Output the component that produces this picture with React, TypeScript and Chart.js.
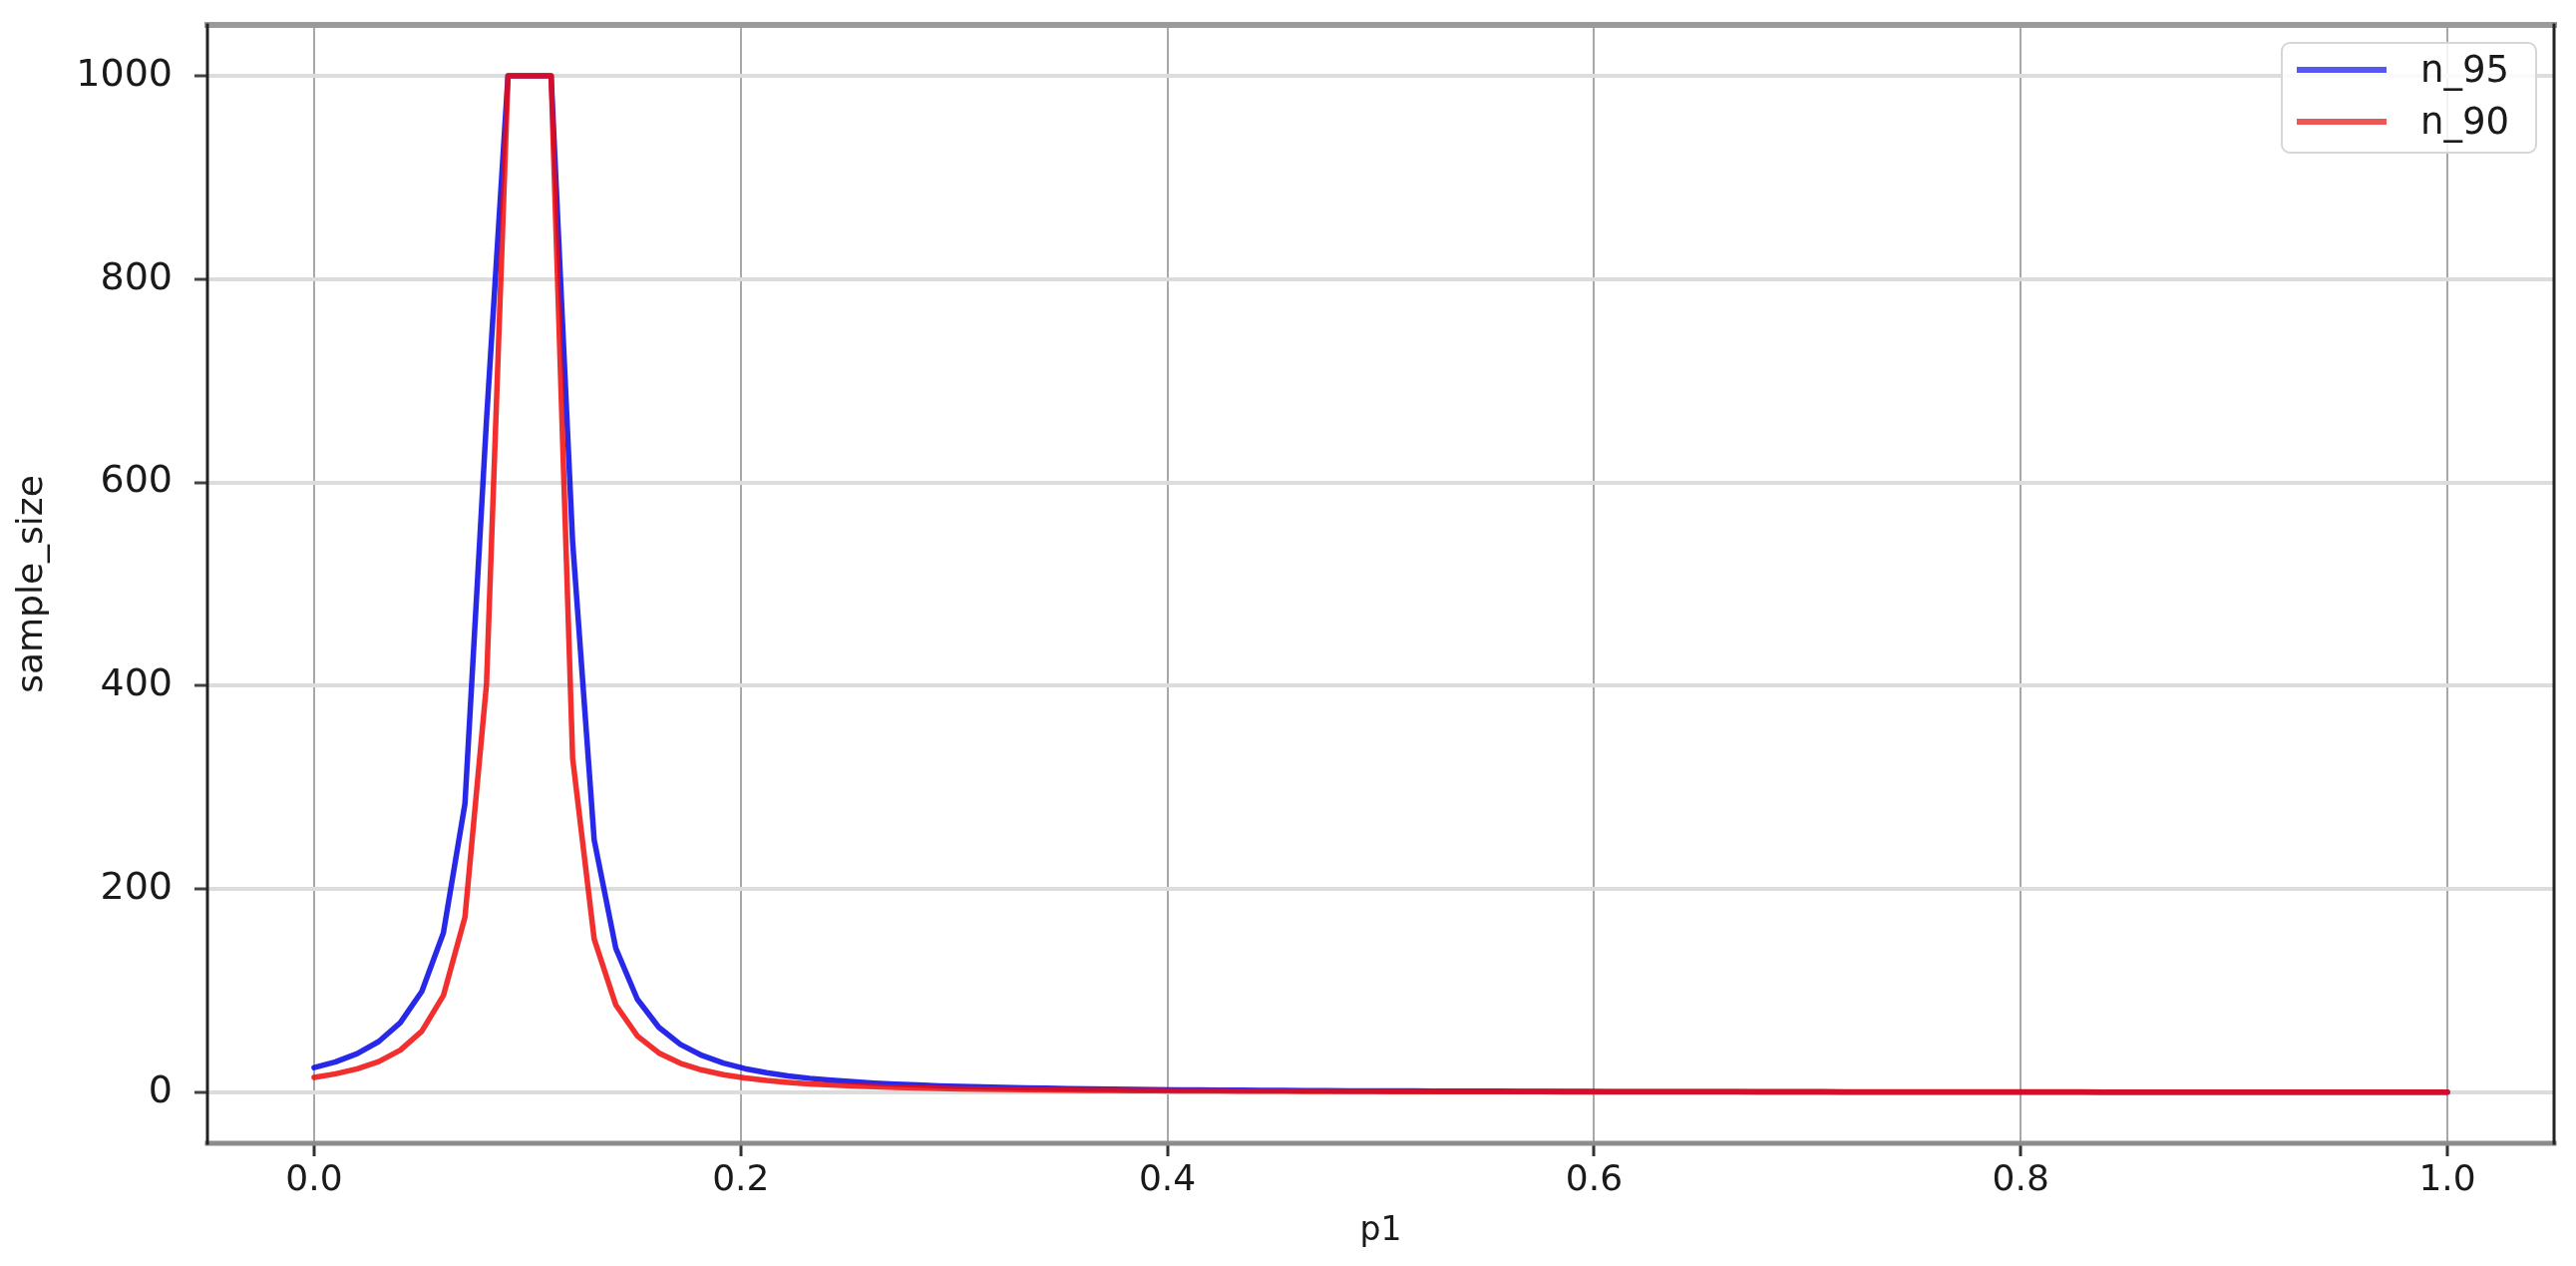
import React, { useEffect, useRef } from 'react';
import { Chart, registerables } from 'chart.js';

Chart.register(...registerables);

// p1 grid (x values)
const P1 = [
  0, 0.0101, 0.0202, 0.0303, 0.0404, 0.0505, 0.0606, 0.0707, 0.0808, 0.0909,
  0.101, 0.1111, 0.1212, 0.1313, 0.1414, 0.1515, 0.1616, 0.1717, 0.1818, 0.1919,
  0.202, 0.2121, 0.2222, 0.2323, 0.2424, 0.2525, 0.2626, 0.2727, 0.2828, 0.2929,
  0.303, 0.3131, 0.3232, 0.3333, 0.3434, 0.3535, 0.3636, 0.3737, 0.3838, 0.3939,
  0.404, 0.4141, 0.4242, 0.4343, 0.4444, 0.4545, 0.4646, 0.4747, 0.4848, 0.4949,
  0.5051, 0.5152, 0.5253, 0.5354, 0.5455, 0.5556, 0.5657, 0.5758, 0.5859, 0.596,
  0.6061, 0.6162, 0.6263, 0.6364, 0.6465, 0.6566, 0.6667, 0.6768, 0.6869, 0.697,
  0.7071, 0.7172, 0.7273, 0.7374, 0.7475, 0.7576, 0.7677, 0.7778, 0.7879, 0.798,
  0.8081, 0.8182, 0.8283, 0.8384, 0.8485, 0.8586, 0.8687, 0.8788, 0.8889, 0.899,
  0.9091, 0.9192, 0.9293, 0.9394, 0.9495, 0.9596, 0.9697, 0.9798, 0.9899, 1.0,
];

const N95 = [
  24.4, 30.1, 38.2, 50.1, 68.6, 99.4, 156.9, 283.8, 661.1, 1000,
  1000, 1000, 541.2, 248.3, 142.0, 91.8, 64.1, 47.3, 36.4, 28.8,
  23.4, 19.4, 16.3, 13.9, 12.0, 10.5, 9.2, 8.2, 7.3, 6.5,
  5.9, 5.4, 4.9, 4.5, 4.1, 3.8, 3.5, 3.3, 3.0, 2.8,
  2.6, 2.5, 2.3, 2.2, 2.1, 1.9, 1.8, 1.7, 1.6, 1.6,
  1.5, 1.4, 1.3, 1.3, 1.2, 1.2, 1.1, 1.1, 1.0, 1.0,
  0.9, 0.9, 0.9, 0.8, 0.8, 0.8, 0.8, 0.7, 0.7, 0.7,
  0.7, 0.6, 0.6, 0.6, 0.6, 0.6, 0.5, 0.5, 0.5, 0.5,
  0.5, 0.5, 0.5, 0.4, 0.4, 0.4, 0.4, 0.4, 0.4, 0.4,
  0.4, 0.4, 0.4, 0.3, 0.3, 0.3, 0.3, 0.3, 0.3, 0.3,
];

const N90 = [
  14.8, 18.3, 23.2, 30.4, 41.6, 60.3, 95.3, 172.3, 401.3, 1000,
  1000, 1000, 328.5, 150.8, 86.2, 55.7, 38.9, 28.7, 22.1, 17.5,
  14.2, 11.8, 9.9, 8.4, 7.3, 6.4, 5.6, 5.0, 4.4, 4.0,
  3.6, 3.3, 3.0, 2.7, 2.5, 2.3, 2.1, 2.0, 1.8, 1.7,
  1.6, 1.5, 1.4, 1.3, 1.3, 1.2, 1.1, 1.1, 1.0, 1.0,
  0.9, 0.9, 0.8, 0.8, 0.7, 0.7, 0.7, 0.7, 0.6, 0.6,
  0.6, 0.6, 0.5, 0.5, 0.5, 0.5, 0.5, 0.4, 0.4, 0.4,
  0.4, 0.4, 0.4, 0.4, 0.4, 0.3, 0.3, 0.3, 0.3, 0.3,
  0.3, 0.3, 0.3, 0.3, 0.3, 0.3, 0.3, 0.2, 0.2, 0.2,
  0.2, 0.2, 0.2, 0.2, 0.2, 0.2, 0.2, 0.2, 0.2, 0.2,
];

const SERIES_LABELS = ['n_95', 'n_90'];
const X_TICKS = [0, 0.2, 0.4, 0.6, 0.8, 1.0];
const Y_TICKS = [0, 200, 400, 600, 800, 1000];
const X_TITLE = 'p1';
const Y_TITLE = 'sample_size';

const FONT = 'DejaVu Sans';
const BLUE = 'rgba(10, 10, 230, 0.88)';
const RED = 'rgba(240, 10, 10, 0.85)';
const BLUE_LEGEND = 'rgba(40, 40, 240, 0.78)';
const RED_LEGEND = 'rgba(230, 40, 40, 0.78)';

const spinesPlugin = {
  id: 'spines',
  afterDatasetsDraw(chart: any) {
    const { ctx, chartArea: a } = chart;
    ctx.save();
    ctx.lineCap = 'square';
    ctx.strokeStyle = '#9a9a9a';
    ctx.lineWidth = 6;
    ctx.beginPath();
    ctx.moveTo(a.left, a.top);
    ctx.lineTo(a.right, a.top);
    ctx.stroke();
    ctx.strokeStyle = '#8c8c8c';
    ctx.lineWidth = 5;
    ctx.beginPath();
    ctx.moveTo(a.left, a.bottom);
    ctx.lineTo(a.right, a.bottom);
    ctx.stroke();
    ctx.strokeStyle = '#222';
    ctx.lineWidth = 3;
    ctx.beginPath();
    ctx.moveTo(a.left, a.top);
    ctx.lineTo(a.left, a.bottom);
    ctx.stroke();
    ctx.beginPath();
    ctx.moveTo(a.right, a.top);
    ctx.lineTo(a.right, a.bottom);
    ctx.stroke();
    ctx.restore();
  },
};

const LEGEND_COLORS = [BLUE_LEGEND, RED_LEGEND];

const legendPlugin = {
  id: 'boxLegend',
  afterDraw(chart: any) {
    const { ctx, chartArea: a } = chart;
    const w = 255;
    const h = 110;
    const right = a.right - 18;
    const top = a.top + 18;
    const left = right - w;
    ctx.save();
    ctx.fillStyle = 'rgba(255,255,255,0.85)';
    ctx.strokeStyle = '#d6d6d6';
    ctx.lineWidth = 2;
    ctx.beginPath();
    ctx.roundRect(left, top, w, h, 8);
    ctx.fill();
    ctx.stroke();
    const rows = [top + 27, top + 79];
    chart.data.datasets.forEach((ds: any, i: number) => {
      const y = rows[i];
      ctx.strokeStyle = LEGEND_COLORS[i];
      ctx.lineWidth = 6;
      ctx.lineCap = 'butt';
      ctx.beginPath();
      ctx.moveTo(left + 15, y);
      ctx.lineTo(left + 105, y);
      ctx.stroke();
      ctx.fillStyle = '#1a1a1a';
      ctx.font = `37px "${FONT}"`;
      ctx.textBaseline = 'middle';
      ctx.textAlign = 'left';
      ctx.fillText(ds.label, left + 139, y + 2);
    });
    ctx.restore();
  },
};

export default function App() {
  const canvasRef = useRef<HTMLCanvasElement | null>(null);

  useEffect(() => {
    const canvas = canvasRef.current;
    if (!canvas) return;
    const chart = new Chart(canvas, {
      type: 'line',
      data: {
        datasets: [
          {
            label: SERIES_LABELS[0],
            data: P1.map((x, i) => ({ x, y: N95[i] })),
            borderColor: BLUE,
            backgroundColor: BLUE,
            borderWidth: 5.5,
            borderJoinStyle: 'round',
            borderCapStyle: 'round',
            pointRadius: 0,
            tension: 0,
            order: 1,
          },
          {
            label: SERIES_LABELS[1],
            data: P1.map((x, i) => ({ x, y: N90[i] })),
            borderColor: RED,
            backgroundColor: RED,
            borderWidth: 5.5,
            borderJoinStyle: 'round',
            borderCapStyle: 'round',
            pointRadius: 0,
            tension: 0,
            order: 0,
          },
        ],
      },
      options: {
        responsive: false,
        animation: false,
        layout: { padding: { top: 25, right: 22, left: 0, bottom: 0 } },
        plugins: {
          legend: { display: false },
          tooltip: { enabled: false },
        },
        scales: {
          x: {
            type: 'linear',
            min: -0.05,
            max: 1.05,
            afterBuildTicks: (scale: any) => {
              scale.ticks = X_TICKS.map((v) => ({ value: v }));
            },
            afterFit: (scale: any) => {
              scale.height = 123;
              scale.paddingLeft = 0;
              scale.paddingRight = 0;
              scale.paddingTop = 0;
              scale.paddingBottom = 0;
            },
            ticks: {
              padding: 3,
              color: '#1a1a1a',
              font: { family: FONT, size: 36 },
              maxRotation: 0,
              autoSkip: false,
              callback: (v: any) => Number(v).toFixed(1),
            },
            grid: {
              color: '#a8a8a8',
              lineWidth: 2,
              drawTicks: true,
              tickLength: 13,
              tickColor: '#333',
              tickWidth: 3,
            },
            border: { display: false },
            title: {
              display: true,
              text: X_TITLE,
              color: '#1a1a1a',
              font: { family: FONT, size: 33 },
              padding: { top: 0, bottom: 15 },
            },
          },
          y: {
            type: 'linear',
            min: -50,
            max: 1050,
            afterBuildTicks: (scale: any) => {
              scale.ticks = Y_TICKS.map((v) => ({ value: v }));
            },
            afterFit: (scale: any) => {
              scale.width = 208;
              scale.paddingLeft = 0;
              scale.paddingRight = 0;
              scale.paddingTop = 0;
              scale.paddingBottom = 0;
            },
            ticks: {
              padding: 22,
              color: '#1a1a1a',
              font: { family: FONT, size: 38 },
              autoSkip: false,
              callback: (v: any) => String(v),
            },
            grid: {
              color: '#dcdcdc',
              lineWidth: 4,
              drawTicks: true,
              tickLength: 13,
              tickColor: '#444',
              tickWidth: 3,
            },
            border: { display: false },
            title: {
              display: true,
              text: Y_TITLE,
              color: '#1a1a1a',
              font: { family: FONT, size: 36 },
              padding: { top: 11, bottom: 0 },
            },
          },
        },
      },
      plugins: [spinesPlugin, legendPlugin],
    } as any);
    return () => chart.destroy();
  }, []);

  return (
    <div style={{ position: 'fixed', left: 0, top: 0, width: 2583, height: 1269, background: '#fff' }}>
      <canvas ref={canvasRef} width={2583} height={1269} style={{ display: 'block' }} />
    </div>
  );
}
